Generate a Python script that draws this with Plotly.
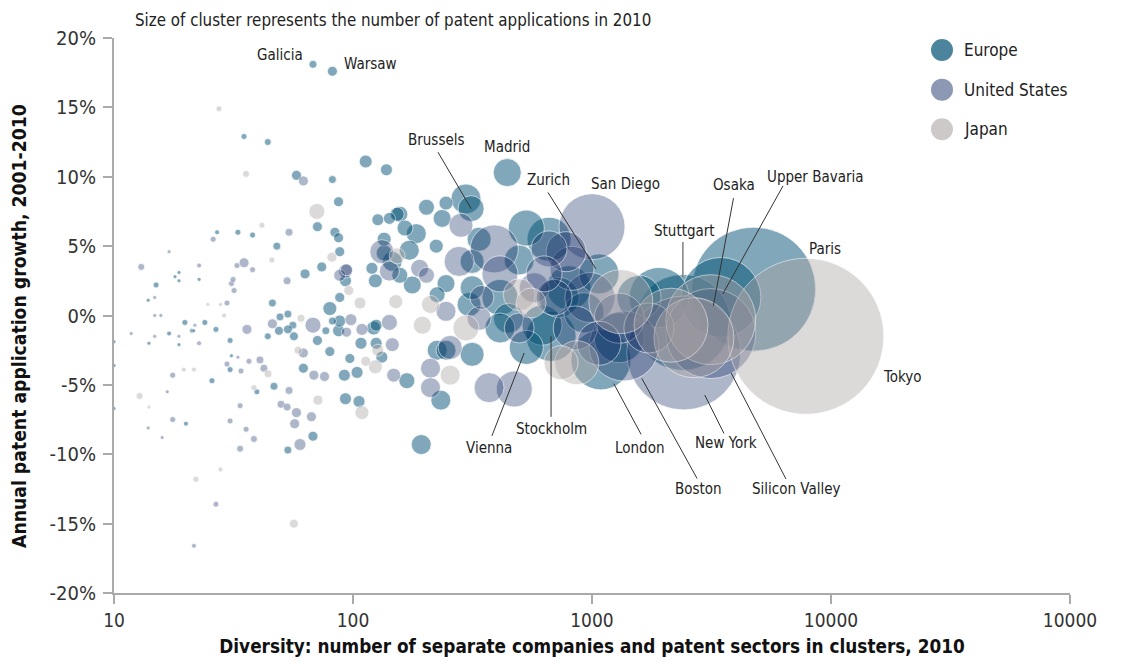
import math
import plotly.graph_objects as go

# ---------------- data ----------------
# Europe: diversity, growth (%), patent applications, name
eu_div = [4750, 2400, 3460, 1910, 1090, 1300, 674, 661, 800, 1070, 618, 728, 531, 412, 531,
          297, 447, 496, 442, 312, 315, 306, 315, 315, 337, 184, 172, 225, 233, 193, 245, 146,
          236, 177, 245, 203, 157, 165, 157, 225, 168, 135, 245, 223, 153, 135, 124, 80, 122,
          113, 138, 127, 142, 93, 120, 87, 108, 125, 132, 92, 104, 93, 106, 88, 125,
          82, 58, 87, 71, 84, 87, 88, 63, 74, 71, 80, 62, 97, 68, 88,
          68, 82, 48, 46, 49.5, 53.4, 56, 77, 82, 46.7, 53.4, 49, 53.4, 56.6, 44, 44,
          35, 33, 38, 15, 19.8, 24, 26.7, 30.6, 30.6, 25.7, 39.6, 27, 21.2, 17, 20,
          18, 18.7, 18.7, 22.7, 18.7, 31, 13.9, 14, 10, 10, 10,
          926, 412, 1574]
eu_growth = [1.9, -0.5, 1.3, 1.3, -3.2, -1.6, -1.5, 5.5, 2.0, 3.0, -0.7, 1.3, 6.3, 1.3, -2.3,
             8.4, -0.2, 4.0, 10.3, 7.7, 3.9, 0.8, -2.8, 2.0, 5.5, 5.9, 4.7, -2.5, -6.1, -9.3, -2.5, 3.9,
             7.0, 2.2, 2.3, 7.8, 7.3, 6.3, 2.9, 1.5, -4.7, 4.5, 8.1, 5.0, 7.3, 5.5, 2.5, 0.5, -0.9,
             11.1, 10.5, 6.9, 7.0, 2.5, 3.4, -1.1, -2.0, -0.7, -3.0, -4.3, -4.1, -6.0, -6.2, -0.4, -2.0,
             17.6, 10.1, 8.2, 6.4, 6.0, 5.6, 4.6, 3.0, 3.5, -1.8, -2.6, -3.8, -3.1, -8.7, 1.3,
             18.1, 9.8, 5.0, 0.9, -0.1, 0.1, -0.7, -1.1, -0.4, -5.1, -9.7, -1.1, -1.0, -1.5, 12.5, -1.5,
             12.9, 6.0, 5.8, 2.2, -0.5, -0.5, -1.0, -1.8, -3.9, -4.7, -5.5, 6.0, -1.1, -1.3, -7.8,
             2.8, 3.1, 2.5, 2.6, -2.1, -2.9, 1.1, -2.0, -1.9, -3.6, -6.7,
             0.2, -0.9, 1.3]
eu_patents = [38440, 23040, 16000, 9000, 9000, 6250, 6250, 4840, 4840, 4000, 4000, 4000, 3240, 3240, 2890,
              2250, 2250, 2250, 1960, 1690, 1440, 1440, 1440, 1440, 1440, 1000, 1000, 1000, 1000, 1000, 1000, 1000,
              810, 810, 810, 640, 640, 640, 640, 640, 640, 640, 490, 490, 490, 490, 490, 490, 490,
              420, 360, 360, 360, 360, 360, 360, 360, 360, 360, 360, 360, 360, 360, 360, 360,
              250, 250, 250, 250, 250, 250, 250, 250, 250, 250, 250, 250, 250, 250, 250,
              160, 160, 160, 160, 160, 160, 160, 160, 160, 160, 160, 200, 200, 200, 120, 120,
              90, 90, 90, 90, 90, 90, 90, 90, 90, 90, 90, 60, 60, 60, 60,
              40, 40, 40, 40, 40, 40, 22, 15, 10, 10, 10,
              4000, 2250, 4840]
eu_names = {0: "Paris", 1: "Stuttgart", 2: "Upper Bavaria", 4: "London", 6: "Stockholm",
            9: "Zurich", 14: "Vienna", 18: "Madrid", 19: "Brussels", 65: "Warsaw", 80: "Galicia"}

# United States
us_div = [2420, 3140, 1360, 1000, 980, 1300, 390, 825, 779, 473, 412, 661, 278, 371, 573,
          283, 337, 255, 346, 132, 245, 211, 211, 142, 190, 203, 68, 142, 146, 148, 93,
          88, 94, 98, 109, 60, 62, 35, 36, 46, 94, 62, 68.6, 76, 58, 57, 67,
          54, 53, 40.8, 42.4, 54, 50, 53, 13, 38.5, 33.7,
          26, 32.7, 38, 31, 31.5, 31.8, 29.7, 29.7, 34, 36.7, 17.6, 33.7, 17.6, 30.6, 35.7, 26.7,
          22.7, 22.7, 21.6, 17, 15.7, 21.8, 21.6, 18.7, 33, 16.7, 13.9, 14.8, 14.8, 11.8, 15.9, 14.8,
          851, 694, 1070, 496, 630, 1730]
us_growth = [-2.7, -1.3, -2.2, 6.4, 1.3, -0.2, 4.8, 3.4, 4.6, -5.3, 3.0, 4.8, 3.9, -5.2, 2.0,
             6.5, -0.2, -2.3, 1.3, 4.6, 0.3, -3.8, -5.2, 3.2, 3.4, 2.9, -0.7, -0.5, -2.1, -4.3, 3.2,
             2.9, 3.3, -0.3, -1.0, -9.3, 9.7, 3.8, -1.0, -0.6, -1.2, -2.7, -4.3, -4.4, -7.0, -7.8, -7.3,
             6.0, 2.5, -3.2, -3.8, -5.4, -6.4, -6.6, 3.5, -8.9, -9.6,
             5.5, 3.6, 3.3, 2.3, 2.6, 1.8, 0.9, -3.5, -4.0, -3.3, -4.3, -6.5, -7.5, -7.6, -8.2, -13.6,
             3.6, -2.0, -16.6, 4.6, 0.0, -0.7, -1.1, -1.5, -3.0, -5.5, -8.1, 1.3, 0.0, -1.3, -8.8, -1.5,
             -0.9, 1.3, -2.0, -0.9, 3.0, -0.9]
us_patents = [32490, 20250, 12250, 10900, 6250, 6250, 5760, 4840, 4000, 3240, 3240, 3240, 2250, 2250, 2250,
              1440, 1440, 1440, 1440, 1440, 1000, 1000, 1000, 1000, 810, 640, 640, 640, 490, 490, 490,
              360, 360, 360, 360, 360, 250, 250, 250, 250, 250, 250, 250, 250, 250, 250, 250,
              160, 160, 160, 160, 160, 160, 160, 120, 120, 120,
              90, 90, 90, 90, 90, 90, 90, 90, 90, 90, 90, 90, 90, 90, 90, 90,
              60, 60, 60, 40, 40, 40, 40, 40, 40, 40, 40, 22, 22, 22, 22, 15,
              4840, 3240, 4840, 2250, 3240, 6250]
us_names = {0: "New York", 1: "Silicon Valley", 2: "Boston", 3: "San Diego"}

# Japan
jp_div = [7850, 3140, 2670, 2140, 1320, 864, 742, 496, 556, 297, 255, 211, 195, 70.6, 153, 151,
          124, 109, 107, 127, 81.6, 96, 113, 71.3, 56.6, 60.6, 58.9, 44.1, 35.7, 12.8,
          27.5, 41.6, 45.8, 38.5, 22, 28.9, 19.6, 21.6, 27.9, 24.7, 27.9, 14]
jp_growth = [-1.5, -0.3, -1.6, -0.7, 1.0, -3.4, -3.4, 1.5, 0.9, -0.9, -4.3, 0.8, -0.7, 7.5, 4.3, 1.0,
             -3.7, -7.0, 0.9, -2.5, 4.2, 1.8, -3.3, -6.1, -15.0, -0.2, -2.5, -4.2, 10.2, -5.8,
             14.9, 6.5, 4.0, -5.2, -11.8, 0.0, -3.9, -3.9, -11.1, 0.8, 0.8, -6.6]
jp_patents = [60840, 20250, 16000, 13690, 10240, 4840, 2890, 2560, 2250, 1690, 1000, 810, 810, 640, 640, 490,
              490, 490, 360, 360, 250, 250, 250, 250, 200, 160, 160, 160, 120, 120,
              90, 90, 90, 90, 90, 60, 60, 60, 60, 40, 40, 17]
jp_names = {0: "Tokyo", 1: "Osaka"}

x_tickvals = [10, 100, 1000, 10000, 100000]
x_ticktext = ["10", "100", "1000", "10000", "10000"]
y_tickvals = [-20, -15, -10, -5, 0, 5, 10, 15, 20]
y_ticktext = ["-20%", "-15%", "-10%", "-5%", "0%", "5%", "10%", "15%", "20%"]

# ---------------- styling ----------------
OFF = 8                      # page body margin of the html page
W, H = 1130 - OFF, 666 - OFF
ML, MR, MT, MB = 114 - OFF, 60, 38 - OFF, 69
FONT = "DejaVu Sans Condensed, Liberation Sans Narrow, Roboto, sans-serif"
COLORS = {"Europe": "rgba(0,80,115,0.70)",
          "United States": "rgba(25,50,105,0.50)",
          "Japan": "rgba(174,165,165,0.60)"}
MAX_D = 156
all_pat = eu_patents + us_patents + jp_patents
sizeref = 2.0 * max(all_pat) / (MAX_D ** 2)

fig = go.Figure()
series = [("Europe", eu_div, eu_growth, eu_patents, eu_names),
          ("United States", us_div, us_growth, us_patents, us_names),
          ("Japan", jp_div, jp_growth, jp_patents, jp_names)]
for name, xs, ys, ss, nm in series:
    fig.add_trace(go.Scatter(
        x=xs, y=ys, mode="markers", name=name, showlegend=False, cliponaxis=False,
        text=[nm.get(i, "") for i in range(len(xs))],
        marker=dict(size=ss, sizemode="area", sizeref=sizeref, sizemin=2,
                    color=COLORS[name],
                    line=dict(color="rgba(255,255,255,0.75)", width=1)),
        hovertemplate="%{text}<br>Diversity: %{x}<br>Growth: %{y}%<extra>" + name + "</extra>"))

def lookup(city):
    for _, xs, ys, _, nm in series:
        for i, n in nm.items():
            if n == city:
                return xs[i], ys[i]

def paper(px, py):
    # page pixel -> paper coordinates
    px, py = px - OFF, py - OFF
    return (px - ML) / (W - ML - MR), (H - MB - py) / (H - MT - MB)

# label text positions (page-pixel centres)
labels = {"Galicia": (280, 55), "Warsaw": (370, 64), "Brussels": (436, 141), "Madrid": (507, 148),
          "Zurich": (548, 181), "San Diego": (625, 185), "Stuttgart": (684, 232), "Osaka": (734, 186),
          "Upper Bavaria": (815, 178), "Paris": (825, 251), "Tokyo": (902, 379), "Vienna": (489, 451),
          "Stockholm": (551, 432), "London": (639, 451), "New York": (726, 446), "Boston": (698, 492),
          "Silicon Valley": (796, 492)}
annotations = []
for t, (px, py) in labels.items():
    xp, yp = paper(px, py)
    annotations.append(dict(x=xp, y=yp, xref="paper", yref="paper", text=t, showarrow=False,
                            xanchor="center", yanchor="middle",
                            font=dict(family=FONT, size=15, color="#222")))

# leader lines: (ax, ay offset of tail in px, standoff)
leaders = {"Brussels": (-34, -58, 0), "Zurich": (-52, -83, 6), "Stuttgart": (0, -82, 45),
           "Osaka": (23, -123, 14), "Upper Bavaria": (63, -113, 4), "Vienna": (-35, 90, 6),
           "Stockholm": (0, 82, 0), "London": (41, 76, 27), "Boston": (74, 134, 37),
           "New York": (41, 82, 47), "Silicon Valley": (76, 147, 44)}
for city, (ax, ay, so) in leaders.items():
    cx, cy = lookup(city)
    annotations.append(dict(x=math.log10(cx), y=cy, xref="x", yref="y", text="", showarrow=True,
                            arrowhead=0, arrowwidth=1.6 if city == "Stuttgart" else 1,
                            arrowcolor="#888" if city == "Stuttgart" else "#333",
                            ax=ax, ay=ay, standoff=so))

# subtitle
sx, sy = paper(133, 8)
annotations.append(dict(x=sx, y=sy, xref="paper", yref="paper", xanchor="left", yanchor="top",
                        text="Size of cluster represents the number of patent applications in 2010",
                        showarrow=False, font=dict(family=FONT, size=16.8, color="#222")))

# y-axis title
yx, yy = paper(20, 328)
annotations.append(dict(x=yx, y=yy, xref="paper", yref="paper", xanchor="center", yanchor="middle",
                        textangle=-90, showarrow=False,
                        text="<b>Annual patent application growth, 2001-2010</b>",
                        font=dict(family=FONT, size=19.2, color="#111")))

# custom legend
shapes = []
for i, name in enumerate(["Europe", "United States", "Japan"]):
    py = 50 + 40 * i
    xp, yp = paper(942, py)
    shapes.append(dict(type="circle", xref="paper", yref="paper", xsizemode="pixel", ysizemode="pixel",
                       xanchor=xp, yanchor=yp, x0=-11, x1=11, y0=-11, y1=11,
                       fillcolor=COLORS[name], line=dict(width=0)))
    tx, ty = paper(962, py)
    annotations.append(dict(x=tx, y=ty, xref="paper", yref="paper", xanchor="left", yanchor="middle",
                            text=name, showarrow=False, font=dict(family=FONT, size=17, color="#222")))

fig.update_layout(
    width=W, height=H, margin=dict(l=ML, r=MR, t=MT, b=MB),
    paper_bgcolor="white", plot_bgcolor="white",
    font=dict(family=FONT, color="#333"),
    annotations=annotations, shapes=shapes, showlegend=False,
    xaxis=dict(type="log", range=[1, 5], tickvals=x_tickvals, ticktext=x_ticktext,
               showgrid=False, zeroline=False, showline=True, linecolor="#aaa", linewidth=2,
               ticks="outside", ticklen=9, tickcolor="#aaa", tickwidth=1.5,
               tickfont=dict(size=19, color="#333"),
               title=dict(text="<b>Diversity: number of separate companies and patent sectors in clusters, 2010</b>",
                          font=dict(size=18.8, color="#111"), standoff=10)),
    yaxis=dict(range=[-20, 20], tickvals=y_tickvals, ticktext=y_ticktext,
               showgrid=False, zeroline=False, showline=True, linecolor="#aaa", linewidth=2,
               ticks="outside", ticklen=9, tickcolor="#aaa", tickwidth=1.5,
               ticklabelstandoff=3,
               tickfont=dict(size=20, color="#333")),
)
fig.write_html("out.html")
